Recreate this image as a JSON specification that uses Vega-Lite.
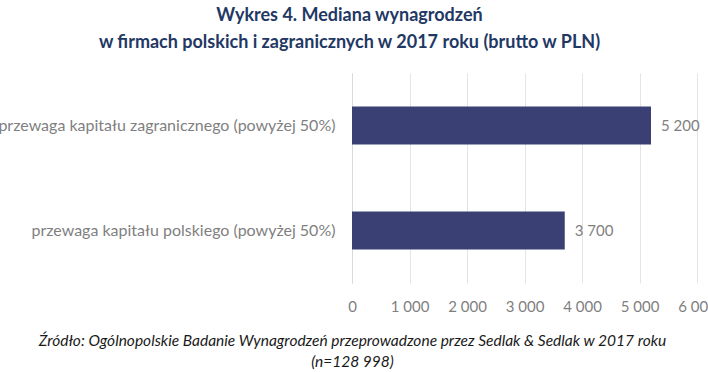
{
  "$schema": "https://vega.github.io/schema/vega-lite/v6.json",
  "width": 345,
  "height": 210,
  "autosize": "none",
  "padding": {"left": 352, "top": 73, "right": 11, "bottom": 89},
  "background": "white",
  "config": {
    "view": {"stroke": null},
    "font": "Lato",
    "locale": {"number": {"decimal": ",", "thousands": " ", "grouping": [3], "currency": ["", " zł"]}}
  },
  "title": {
    "text": ["Wykres 4. Mediana wynagrodzeń", "w firmach polskich i zagranicznych w 2017 roku (brutto w PLN)"],
    "font": "Lato",
    "fontSize": 18,
    "fontWeight": "bold",
    "color": "#1f3864",
    "anchor": "middle",
    "frame": "group",
    "dx": -175,
    "offset": 21,
    "lineHeight": 27
  },
  "data": {
    "values": [
      {"kategoria": "przewaga kapitału zagranicznego (powyżej 50%)", "wartosc": 5200},
      {"kategoria": "przewaga kapitału polskiego (powyżej 50%)", "wartosc": 3700}
    ]
  },
  "encoding": {
    "y": {
      "field": "kategoria",
      "type": "nominal",
      "sort": ["przewaga kapitału zagranicznego (powyżej 50%)", "przewaga kapitału polskiego (powyżej 50%)"],
      "scale": {"paddingInner": 0.64, "paddingOuter": 0.32},
      "axis": {
        "title": null,
        "ticks": false,
        "domainColor": "#d9d9d9",
        "labelColor": "#7f7f7f",
        "labelFontSize": 16,
        "labelPadding": 17,
        "labelLimit": 0
      }
    },
    "x": {
      "field": "wartosc",
      "type": "quantitative",
      "scale": {"domain": [0, 6000]},
      "axis": {
        "values": [0, 1000, 2000, 3000, 4000, 5000, 6000],
        "format": ",d",
        "domain": false,
        "ticks": false,
        "gridColor": "#e4e4e4",
        "labelColor": "#7f7f7f",
        "labelFontSize": 15,
        "labelPadding": 16,
        "labelFlush": false,
        "title": ["Źródło: Ogólnopolskie Badanie Wynagrodzeń przeprowadzone przez Sedlak & Sedlak w 2017 roku", "(n=128 998)"],
        "titleFont": "Lato",
        "titleFontStyle": "italic",
        "titleFontWeight": "normal",
        "titleFontSize": 15.5,
        "titleColor": "#1a1a1a",
        "titleX": 0,
        "titleAlign": "center",
        "titleLineHeight": 21,
        "titlePadding": 19
      }
    }
  },
  "layer": [
    {"mark": {"type": "bar", "color": "#3a4074"}},
    {
      "mark": {"type": "text", "align": "left", "dx": 10, "fontSize": 15, "color": "#7f7f7f", "font": "Lato"},
      "encoding": {"text": {"field": "wartosc", "type": "quantitative", "format": ",d"}}
    }
  ]
}
